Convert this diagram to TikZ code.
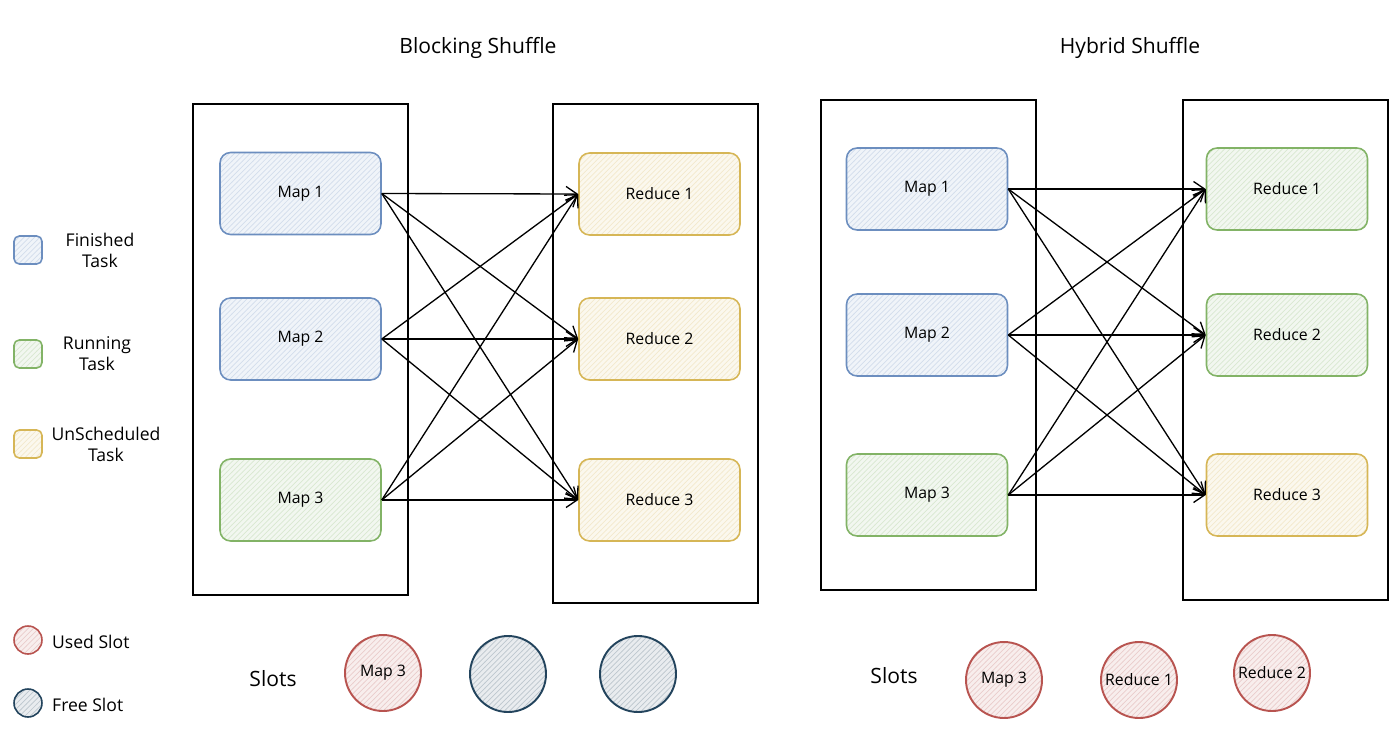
\documentclass[tikz,border=0pt]{standalone}
\usepackage{fontspec}
\setmainfont{Open Sans}
\usetikzlibrary{arrows.meta,patterns}

\definecolor{doneblue}{HTML}{6C8EBF}
\definecolor{rungreen}{HTML}{82B366}
\definecolor{waityellow}{HTML}{D6B656}
\definecolor{usedred}{HTML}{B85450}
\definecolor{freenavy}{HTML}{23445D}

\begin{document}
\begin{tikzpicture}[x=0.02cm,y=-0.02cm,
    stage/.style={draw=black,line width=0.9pt,minimum width=4.3cm,minimum height=9.82cm},
    task/.style={draw=#1,line width=0.9pt,rounded corners=6pt,minimum width=3.22cm,minimum height=1.64cm,
        preaction={fill=#1!10},pattern=north east lines,pattern color=#1!30,font=\small},
    legbox/.style={draw=#1,line width=0.9pt,rounded corners=3pt,minimum size=0.56cm,
        preaction={fill=#1!10},pattern=north east lines,pattern color=#1!30},
    slot/.style={circle,draw=#1,line width=1.1pt,minimum size=1.52cm,inner sep=0pt,
        preaction={fill=#1!10},pattern=north east lines,pattern color=#1!30,font=\small},
    legslot/.style={circle,draw=#1,line width=0.9pt,minimum size=0.56cm,
        preaction={fill=#1!10},pattern=north east lines,pattern color=#1!30},
    flow/.style={-{Straight Barb[length=2.2mm,width=3mm]},line width=0.75pt}]
    \useasboundingbox (0,0) rectangle (1400,741);

    % titles
    \node[font=\large] (blocktitle) at (478,48) {Blocking Shuffle};
    \node[font=\large] (hybridtitle) at (1130,48) {Hybrid Shuffle};

    % legend
    \node[legbox=doneblue] (legdone) at (28,250) {};
    \node[align=center] (legdonetext) at (100,250) {Finished\\Task};
    \node[legbox=rungreen] (legrun) at (28,354) {};
    \node[align=center] (legruntext) at (97,354) {Running\\Task};
    \node[legbox=waityellow] (legwait) at (28,444) {};
    \node[align=center] (legwaittext) at (106,444) {UnScheduled\\Task};
    \node[legslot=usedred] (legused) at (28,640) {};
    \node[anchor=west] (legusedtext) at (46,642) {Used Slot};
    \node[legslot=freenavy] (legfree) at (28,703) {};
    \node[anchor=west] (legfreetext) at (46,705) {Free Slot};

    % blocking shuffle
    \node[stage] (bmapstage) at (300.5,349.5) {};
    \node[stage,minimum width=4.1cm,minimum height=9.98cm] (bredstage) at (655.5,353.5) {};
    \node[task=doneblue] (bm1) at (300.5,193.5) {Map 1};
    \node[task=doneblue] (bm2) at (300.5,339) {Map 2};
    \node[task=rungreen] (bm3) at (300.5,500) {Map 3};
    \node[task=waityellow] (br1) at (659.5,194) {Reduce 1};
    \node[task=waityellow] (br2) at (659.5,339) {Reduce 2};
    \node[task=waityellow] (br3) at (659.5,500) {Reduce 3};
    \foreach \m in {1,2,3}
        \foreach \r in {1,2,3}
            \draw[flow] (bm\m.east) -- (br\r.west);

    \node[font=\large] (bslots) at (273,679) {Slots};
    \node[slot=usedred] (bslot1) at (383,673) {Map 3};
    \node[slot=freenavy] (bslot2) at (508,674) {};
    \node[slot=freenavy] (bslot3) at (638,674) {};

    % hybrid shuffle
    \node[stage,minimum height=9.8cm] (hmapstage) at (928.5,345) {};
    \node[stage,minimum width=4.1cm,minimum height=10cm] (hredstage) at (1285.5,350) {};
    \node[task=doneblue] (hm1) at (927,189) {Map 1};
    \node[task=doneblue] (hm2) at (927,335) {Map 2};
    \node[task=rungreen] (hm3) at (927,495) {Map 3};
    \node[task=rungreen] (hr1) at (1287,189) {Reduce 1};
    \node[task=rungreen] (hr2) at (1287,335) {Reduce 2};
    \node[task=waityellow] (hr3) at (1287,495) {Reduce 3};
    \foreach \m in {1,2,3}
        \foreach \r in {1,2,3}
            \draw[flow] (hm\m.east) -- (hr\r.west);

    \node[font=\large] (hslots) at (894,676) {Slots};
    \node[slot=usedred] (hslot1) at (1004,680) {Map 3};
    \node[slot=usedred] (hslot2) at (1139,680) {Reduce 1};
    \node[slot=usedred] (hslot3) at (1272,673) {Reduce 2};
\end{tikzpicture}
\end{document}
